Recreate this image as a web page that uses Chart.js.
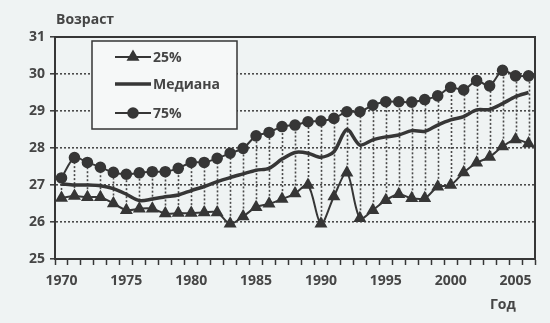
<!DOCTYPE html>
<html>
<head>
<meta charset="utf-8">
<script src="https://cdn.jsdelivr.net/npm/chart.js@4/dist/chart.umd.min.js"></script>
<style>
  html, body { margin: 0; padding: 0; background: #eff3f3; }
  #wrap { width: 550px; height: 323px; }
</style>
</head>
<body>
<div id="wrap"><canvas id="ageChart" width="550" height="323"></canvas></div>
<script>
// --- DATA ---
const years = [1970, 1971, 1972, 1973, 1974, 1975, 1976, 1977, 1978, 1979,
               1980, 1981, 1982, 1983, 1984, 1985, 1986, 1987, 1988, 1989,
               1990, 1991, 1992, 1993, 1994, 1995, 1996, 1997, 1998, 1999,
               2000, 2001, 2002, 2003, 2004, 2005, 2006];

const p25 = [26.65, 26.70, 26.67, 26.67, 26.50, 26.32, 26.36, 26.36, 26.23, 26.24,
             26.24, 26.26, 26.26, 25.95, 26.15, 26.40, 26.49, 26.62, 26.77, 27.00,
             25.95, 26.69, 27.33, 26.10, 26.32, 26.59, 26.75, 26.64, 26.64, 26.95,
             27.00, 27.34, 27.60, 27.76, 28.04, 28.23, 28.12];

const median = [27.03, 27.00, 27.00, 26.98, 26.90, 26.75, 26.58, 26.62, 26.68, 26.73,
                26.85, 26.96, 27.09, 27.20, 27.30, 27.40, 27.45, 27.70, 27.88, 27.86,
                27.75, 27.90, 28.50, 28.08, 28.22, 28.30, 28.35, 28.47, 28.45, 28.62,
                28.76, 28.85, 29.03, 29.04, 29.20, 29.39, 29.50];

const p75 = [27.19, 27.74, 27.61, 27.48, 27.34, 27.29, 27.33, 27.36, 27.36, 27.45,
             27.61, 27.61, 27.72, 27.86, 27.99, 28.33, 28.42, 28.58, 28.62, 28.71,
             28.73, 28.80, 28.98, 28.98, 29.16, 29.25, 29.25, 29.24, 29.31, 29.41,
             29.64, 29.57, 29.82, 29.68, 30.10, 29.95, 29.95];

const yMin = 25, yMax = 31;

// --- STYLE ---
const ink = '#363636';
const textInk = '#454545';
const dotInk = '#4a4a4a';
const fontFamily = '"Open Sans", Lato, sans-serif';

// dotted verticals between 25% and 75% for every year
const dropLines = {
    id: 'dropLines',
    beforeDatasetsDraw(chart) {
        const { ctx, scales: { x, y } } = chart;
        ctx.save();
        ctx.strokeStyle = dotInk;
        ctx.lineWidth = 1.6;
        ctx.setLineDash([2, 2]);
        years.forEach((yr, i) => {
            const px = Math.round(x.getPixelForValue(i)) + 0.5;
            ctx.beginPath();
            ctx.moveTo(px, y.getPixelForValue(p25[i]));
            ctx.lineTo(px, y.getPixelForValue(p75[i]));
            ctx.stroke();
        });
        ctx.restore();
    }
};

// top/right frame, axis captions and the boxed legend
const decor = {
    id: 'decor',
    afterDraw(chart) {
        const { ctx, chartArea: a } = chart;
        ctx.save();
        ctx.strokeStyle = ink;
        ctx.lineWidth = 2;
        ctx.beginPath();
        ctx.moveTo(a.left, a.top);
        ctx.lineTo(a.right, a.top);
        ctx.lineTo(a.right, a.bottom);
        ctx.stroke();

        ctx.fillStyle = textInk;
        ctx.font = 'bold 14px ' + fontFamily;
        ctx.textBaseline = 'middle';
        ctx.textAlign = 'left';
        ctx.fillText('Возраст', 56, 20);
        ctx.fillText('Год', 490, 305);

        // legend box
        const bx = 92, by = 41, bw = 145, bh = 88;
        ctx.fillStyle = '#f6f8f8';
        ctx.fillRect(bx, by, bw, bh);
        ctx.lineWidth = 1.5;
        ctx.strokeRect(bx, by, bw, bh);

        const rows = [57, 84, 113];
        chart.data.datasets.forEach((ds, i) => {
            const ly = rows[i];
            ctx.strokeStyle = ds.borderColor;
            ctx.lineWidth = ds.borderWidth;
            ctx.setLineDash([]);
            ctx.beginPath();
            ctx.moveTo(115, ly);
            ctx.lineTo(151, ly);
            ctx.stroke();
            if (ds.pointRadius > 0) {
                ctx.fillStyle = ds.pointBackgroundColor;
                Chart.helpers.drawPoint(ctx, {
                    pointStyle: ds.pointStyle,
                    radius: ds.pointRadius,
                    borderWidth: 1
                }, 133, ly);
            }
            ctx.fillStyle = textInk;
            ctx.font = 'bold 14px ' + fontFamily;
            ctx.fillText(ds.label, 153, ly + 1);
        });
        ctx.restore();
    }
};

new Chart(document.getElementById('ageChart'), {
    type: 'line',
    data: {
        labels: years,
        datasets: [
            {
                label: '25%',
                data: p25,
                borderColor: ink,
                borderWidth: 2,
                pointStyle: 'triangle',
                pointRadius: 5.5,
                pointBackgroundColor: ink,
                pointBorderColor: ink,
                tension: 0.3
            },
            {
                label: 'Медиана',
                data: median,
                borderColor: ink,
                borderWidth: 3.5,
                pointRadius: 0,
                tension: 0.3
            },
            {
                label: '75%',
                data: p75,
                borderColor: ink,
                borderWidth: 2,
                pointStyle: 'circle',
                pointRadius: 4.8,
                pointBackgroundColor: ink,
                pointBorderColor: ink,
                tension: 0.3
            }
        ]
    },
    options: {
        responsive: false,
        animation: false,
        devicePixelRatio: 1,
        layout: { padding: { top: 37, right: 15, left: 0, bottom: 0 } },
        plugins: {
            legend: { display: false },
            tooltip: { enabled: false }
        },
        scales: {
            x: {
                offset: true,
                grid: {
                    offset: true,
                    drawOnChartArea: false,
                    drawTicks: true,
                    tickLength: 6,
                    tickColor: ink,
                    tickWidth: 1.5
                },
                border: { display: true, color: ink, width: 2 },
                ticks: {
                    autoSkip: false,
                    maxRotation: 0,
                    padding: 8,
                    color: textInk,
                    font: { family: fontFamily, size: 14, weight: 'bold' },
                    callback: (v, i) => (years[i] % 5 === 0 ? String(years[i]) : '')
                },
                afterFit: (s) => { s.height = 64; }
            },
            y: {
                min: yMin,
                max: yMax,
                ticks: {
                    stepSize: 1,
                    padding: 5,
                    color: textInk,
                    font: { family: fontFamily, size: 14, weight: 'bold' }
                },
                grid: {
                    color: dotInk,
                    lineWidth: 1.6,
                    tickLength: 5,
                    tickColor: ink,
                    tickWidth: 1.5
                },
                border: { display: true, color: ink, width: 2, dash: [2, 2] },
                afterFit: (s) => { s.width = 55; }
            }
        }
    },
    plugins: [dropLines, decor]
});
</script>
</body>
</html>
